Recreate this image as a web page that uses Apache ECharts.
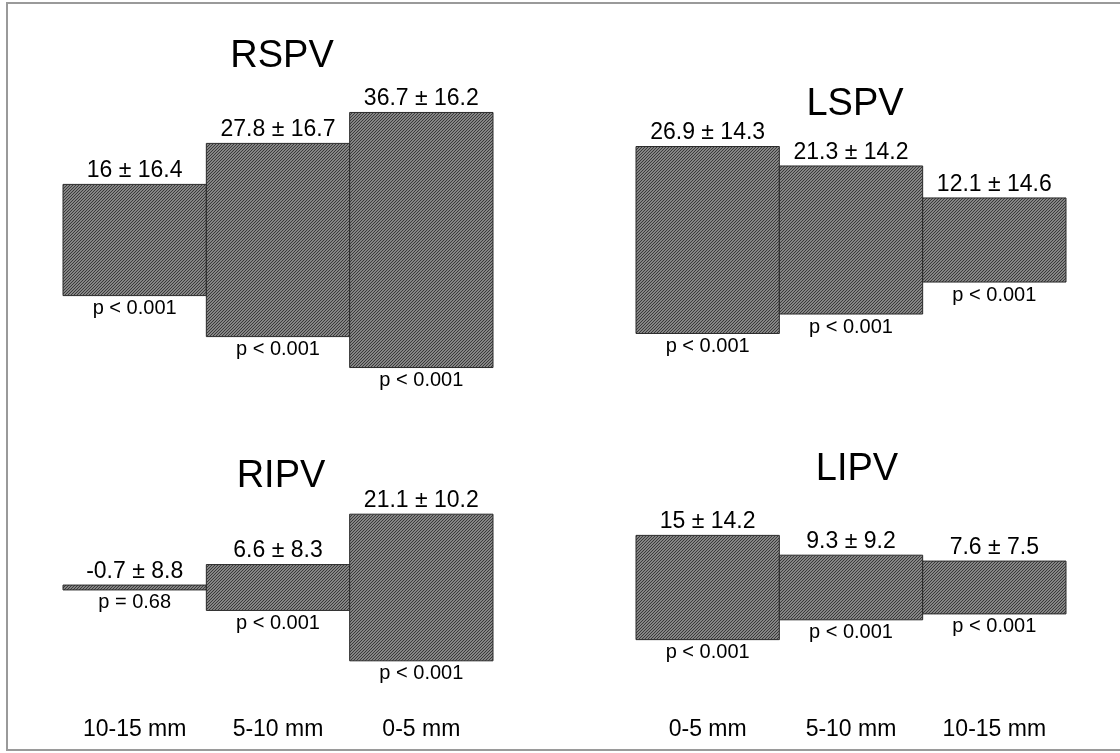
<!DOCTYPE html>
<html>
<head>
<meta charset="utf-8">
<script src="https://cdn.jsdelivr.net/npm/echarts@6/dist/echarts.min.js"></script>
<style>
  html, body { margin: 0; padding: 0; background: #fff; }
  #chart { width: 1120px; height: 753px; }
</style>
</head>
<body>
<div id="chart"></div>
<script>
// ---- data ----
const panelNames = ['RSPV', 'LSPV', 'RIPV', 'LIPV'];
const leftCategories = ['10-15 mm', '5-10 mm', '0-5 mm'];
const rightCategories = ['0-5 mm', '5-10 mm', '10-15 mm'];

const rspvMean = [16, 27.8, 36.7];
const rspvSd = [16.4, 16.7, 16.2];
const rspvP = ['p < 0.001', 'p < 0.001', 'p < 0.001'];

const lspvMean = [26.9, 21.3, 12.1];
const lspvSd = [14.3, 14.2, 14.6];
const lspvP = ['p < 0.001', 'p < 0.001', 'p < 0.001'];

const ripvMean = [-0.7, 6.6, 21.1];
const ripvSd = [8.8, 8.3, 10.2];
const ripvP = ['p = 0.68', 'p < 0.001', 'p < 0.001'];

const lipvMean = [15, 9.3, 7.6];
const lipvSd = [14.2, 9.2, 7.5];
const lipvP = ['p < 0.001', 'p < 0.001', 'p < 0.001'];

// ---- styling ----
const FONT = "'Liberation Sans', Arial, Helvetica, sans-serif";

function makeHatch() {
  const c = document.createElement('canvas');
  c.width = 3; c.height = 3;
  const g = c.getContext('2d');
  g.fillStyle = '#858585';
  g.fillRect(0, 0, 3, 3);
  g.strokeStyle = '#3a3a3a';
  g.lineWidth = 1;
  g.beginPath();
  g.moveTo(-1, 4); g.lineTo(4, -1);
  g.moveTo(-1, 1); g.lineTo(1, -1);
  g.moveTo(2, 4); g.lineTo(4, 2);
  g.stroke();
  return c;
}
const hatch = makeHatch();

const panels = [
  { cats: leftCategories, mean: rspvMean, sd: rspvSd, p: rspvP },
  { cats: rightCategories, mean: lspvMean, sd: lspvSd, p: lspvP },
  { cats: leftCategories, mean: ripvMean, sd: ripvSd, p: ripvP },
  { cats: rightCategories, mean: lipvMean, sd: lipvSd, p: lipvP }
];

const PX_PER_UNIT = 6.95;
const gridDefs = [
  { left: 63, center: 240, range: 20 },
  { left: 636, center: 240, range: 20 },
  { left: 63, center: 587.5, range: 16 },
  { left: 636, center: 587.5, range: 16 }
];

const grids = [], xAxes = [], yAxes = [], series = [];
gridDefs.forEach((d, k) => {
  const h = 2 * d.range * PX_PER_UNIT;
  grids.push({ left: d.left, width: 430, top: d.center - h / 2, height: h, containLabel: false });
  const isBottom = k >= 2;
  xAxes.push({
    type: 'category', gridIndex: k, data: panels[k].cats,
    axisLine: { show: false }, axisTick: { show: false }, splitLine: { show: false },
    axisLabel: {
      show: isBottom, margin: 19, fontSize: 23, color: '#000', fontFamily: FONT
    }
  });
  yAxes.push({ type: 'value', gridIndex: k, min: -d.range, max: d.range, show: false });

  const pan = panels[k];
  series.push({
    type: 'custom', xAxisIndex: k, yAxisIndex: k,
    data: pan.mean.map((m, i) => [i, m]),
    renderItem: function (params, api) {
      const i = api.value(0);
      const v = Math.abs(api.value(1));
      const top = api.coord([i, v / 2]);
      const bot = api.coord([i, -v / 2]);
      const w = api.size([1, 0])[0];
      return {
        type: 'group',
        children: [
          {
            type: 'rect',
            shape: { x: top[0] - w / 2, y: top[1], width: w, height: bot[1] - top[1] },
            style: { fill: { image: hatch, repeat: 'repeat' }, stroke: '#2a2a2a', lineWidth: 1 }
          },
          {
            type: 'text',
            style: {
              text: pan.mean[i] + ' \u00b1 ' + pan.sd[i],
              x: top[0], y: top[1] - 2, align: 'center', verticalAlign: 'bottom',
              fontSize: 23, fontFamily: FONT, fill: '#000'
            }
          },
          {
            type: 'text',
            style: {
              text: pan.p[i],
              x: top[0], y: bot[1] + 3, align: 'center', verticalAlign: 'top',
              fontSize: 20, fontFamily: FONT, fill: '#000'
            }
          }
        ]
      };
    }
  });
});

const titlePos = [[277, 52], [850, 100], [276, 472], [852, 465]];
const titles = panelNames.map((n, k) => ({
  text: n, left: titlePos[k][0], top: titlePos[k][1],
  textAlign: 'center', textVerticalAlign: 'middle',
  textStyle: { fontSize: 38, fontWeight: 'normal', fontFamily: FONT, color: '#000' }
}));

const chart = echarts.init(document.getElementById('chart'), null, { renderer: 'canvas' });
chart.setOption({
  backgroundColor: '#fff',
  animation: false,
  title: titles,
  grid: grids,
  xAxis: xAxes,
  yAxis: yAxes,
  series: series,
  graphic: [{
    type: 'rect', silent: true,
    shape: { x: 7, y: 3, width: 1125, height: 747 },
    style: { fill: 'none', stroke: '#9a9a9a', lineWidth: 2 }
  }]
});
</script>
</body>
</html>
